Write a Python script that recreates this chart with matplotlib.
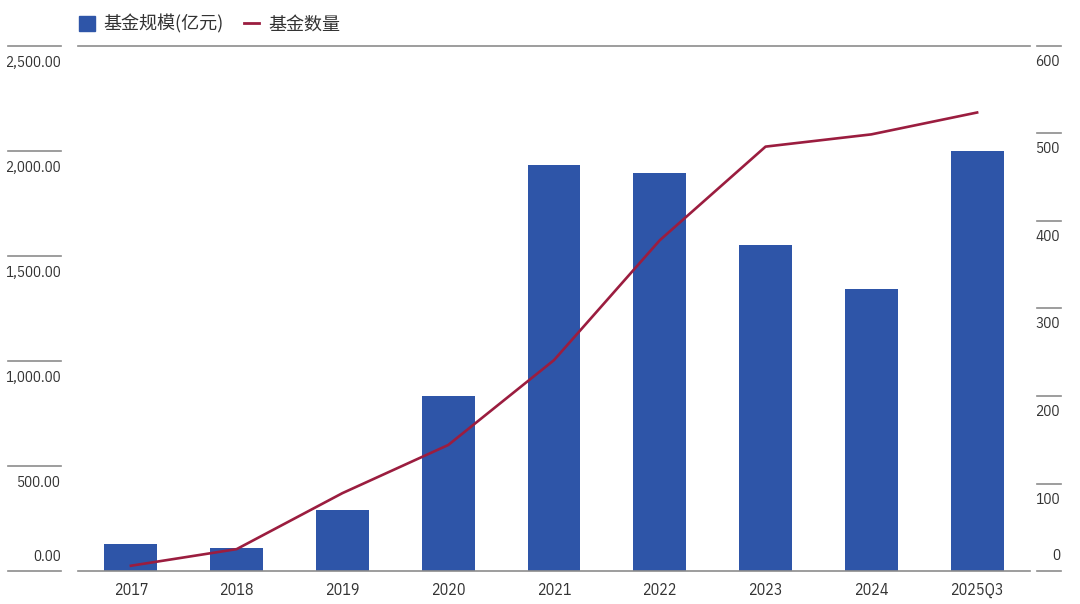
import matplotlib
matplotlib.use("Agg")
import matplotlib.pyplot as plt
from matplotlib.patches import Patch
from matplotlib.lines import Line2D

plt.rcParams['font.family'] = ['IBM Plex Sans Condensed', 'Noto Sans CJK SC', 'DejaVu Sans']

categories = ["2017", "2018", "2019", "2020", "2021", "2022", "2023", "2024", "2025Q3"]
fund_size = [130, 110, 290, 833, 1933, 1895, 1550, 1343, 1998]   # 亿元
fund_count = [6, 25, 89, 144, 241, 378, 485, 499, 524]
left_ticks = [0, 500, 1000, 1500, 2000, 2500]
right_ticks = [0, 100, 200, 300, 400, 500, 600]

blue = "#2E55A8"
red = "#9B1D3F"
gray = "#8C8C8C"
txt = "#333333"

fig = plt.figure(figsize=(10.8, 6.04), dpi=100)
W, H = 1080, 604
ax = fig.add_axes([78 / W, 1 - 571 / H, (1030 - 78) / W, (571 - 46) / H])
ax2 = ax.twinx()

x = range(len(categories))
ax.bar(x, fund_size, width=0.5, color=blue, zorder=2)
ax2.plot(x, fund_count, color=red, lw=1.9, zorder=3)

ax.set_xlim(-0.5, len(categories) - 0.5)
ax.set_ylim(0, 2500)
ax2.set_ylim(0, 600)

for a in (ax, ax2):
    for s in ("left", "right", "top", "bottom"):
        a.spines[s].set_visible(False)
    a.set_yticks([])
for s in ("top", "bottom"):
    ax.spines[s].set_visible(True)
    ax.spines[s].set_color(gray)
    ax.spines[s].set_linewidth(1.2)

ax.set_xticks(list(x))
ax.set_xticklabels(categories, fontsize=11.5, color=txt)
ax.tick_params(axis="x", length=0, pad=8)

# left value scale: short lines, label under each (the zero label sits above)
ltr = ax.get_yaxis_transform()
for v in left_ticks:
    ax.plot([-0.0735, -0.0179], [v, v], transform=ltr, color=gray, lw=1.2, clip_on=False)
    dy = 14 if v == 0 else -17
    ax.annotate(f"{v:,.2f}", xy=(-0.0179, v), xycoords=ltr, xytext=(0, dy),
                textcoords="offset pixels", ha="right", va="center", fontsize=10.8, color=txt)

# right count scale
rtr = ax2.get_yaxis_transform()
for v in right_ticks:
    ax2.plot([1.0074, 1.0326], [v, v], transform=rtr, color=gray, lw=1.2, clip_on=False)
    dy = 15 if v == 0 else -16
    ax2.annotate(f"{v}", xy=(1.0315, v), xycoords=rtr, xytext=(0, dy),
                 textcoords="offset pixels", ha="right", va="center", fontsize=11, color=txt)

handles = [Patch(facecolor=blue, edgecolor=blue), Line2D([0], [0], color=red, lw=2)]
fig.legend(handles, ["基金规模(亿元)", "基金数量"], ncol=2, frameon=False,
           loc="center left", bbox_to_anchor=(63 / W, 1 - 24 / H),
           prop={"family": ["Noto Sans CJK SC", "DejaVu Sans"], "size": 13},
           handlelength=0.85, handleheight=0.85, handletextpad=0.5, columnspacing=1.1,
           labelcolor=txt)

fig.savefig("out.png", dpi=100, facecolor="white")
